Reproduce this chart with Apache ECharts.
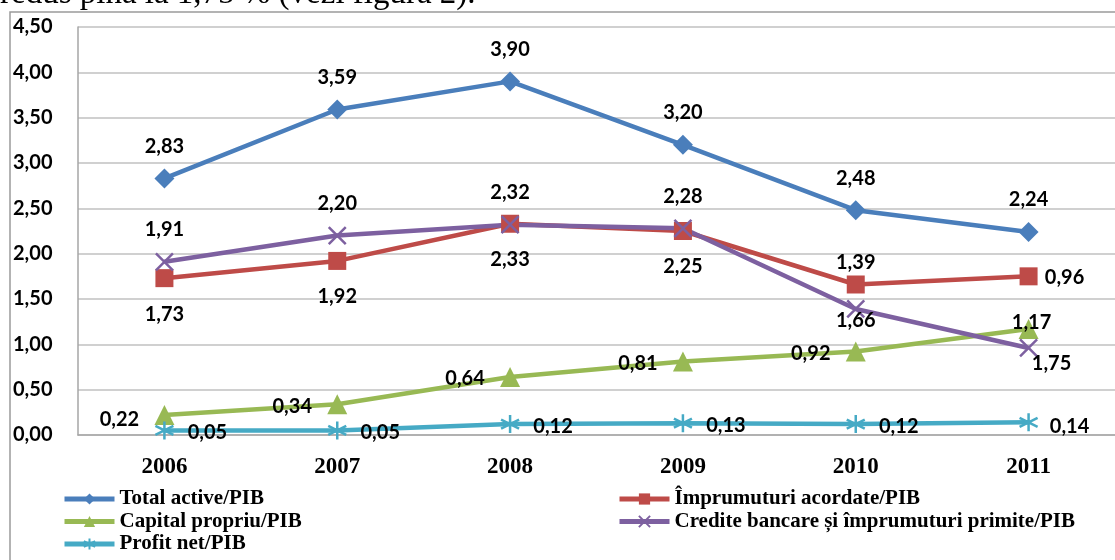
<!DOCTYPE html>
<html>
<head>
<meta charset="utf-8">
<script src="https://cdn.jsdelivr.net/npm/echarts@6/dist/echarts.min.js"></script>
<style>
  html, body { margin: 0; padding: 0; background: #fff; }
  #chart { width: 1115px; height: 560px; }
</style>
</head>
<body>
<div id="chart"></div>
<script>
// Indicatori raportați la PIB, 2006–2011
const years = ['2006', '2007', '2008', '2009', '2010', '2011'];
const yTicks = [0, 0.5, 1, 1.5, 2, 2.5, 3, 3.5, 4, 4.5];

const seriesNames = [
  'Total active/PIB',
  'Împrumuturi acordate/PIB',
  'Capital propriu/PIB',
  'Credite bancare și împrumuturi primite/PIB',
  'Profit net/PIB'
];

const totalActive   = [2.83, 3.59, 3.90, 3.20, 2.48, 2.24];
const imprumuturi   = [1.73, 1.92, 2.33, 2.25, 1.66, 1.75];
const capital       = [0.22, 0.34, 0.64, 0.81, 0.92, 1.17];
const credite       = [1.91, 2.20, 2.32, 2.28, 1.39, 0.96];
const profitNet     = [0.05, 0.05, 0.12, 0.13, 0.12, 0.14];

const seriesValues = [totalActive, imprumuturi, capital, credite, profitNet];

// visual styling per series
const colors = ['#4A7EBB', '#BE4B48', '#98B954', '#7D60A0', '#46AAC5'];
const symbols = [
  'diamond',
  'rect',
  'triangle',
  'path://M0,0L10,10M10,0L0,10',
  'path://M5,0L5,10M0.7,2.5L9.3,7.5M0.7,7.5L9.3,2.5'
];
const symbolSizes = [20, 18, 20, 17, 18];
const strokeSymbols = [false, false, false, true, true];

// default label offset from each point, then per-point adjustments
const baseOffsets = [[0, -32], [0, 36], [-45, 2], [0, -32], [43, 2]];
const pointOffsets = {
  2: { 0: [-45, 4], 5: [3, -6] },
  1: { 5: [23, 87] },
  3: { 4: [0, -46], 5: [36, -70] },
  4: { 5: [41, 4] }
};

const fmt = v => v.toFixed(2).replace('.', ',');

const series = seriesNames.map((name, i) => ({
  name,
  type: 'line',
  symbol: symbols[i],
  symbolSize: symbolSizes[i],
  lineStyle: { color: colors[i], width: 4.5 },
  itemStyle: strokeSymbols[i]
    ? { color: colors[i], borderColor: colors[i], borderWidth: 2.5 }
    : { color: colors[i], borderWidth: 0 },
  label: {
    show: true,
    position: 'inside',
    offset: baseOffsets[i],
    color: '#000',
    fontFamily: 'Lato',
    fontWeight: 'bold',
    fontSize: 20,
    formatter: p => fmt(p.value)
  },
  emphasis: { disabled: true },
  data: seriesValues[i].map((v, j) => {
    const off = pointOffsets[i] && pointOffsets[i][j];
    return off ? { value: v, label: { offset: off } } : v;
  })
}));

const legendText = {
  color: '#000',
  fontFamily: 'Liberation Serif',
  fontWeight: 'bold',
  fontSize: 21,
  lineHeight: 22
};

const legendBase = {
  orient: 'vertical',
  top: 488,
  bottom: -60,
  padding: 0,
  itemWidth: 50,
  itemHeight: 14,
  itemGap: 0.5,
  lineStyle: { width: 5 },
  textStyle: legendText
};

const chart = echarts.init(document.getElementById('chart'), null, { renderer: 'canvas' });
chart.setOption({
  animation: false,
  backgroundColor: '#fff',
  graphic: [
    {
      type: 'text',
      left: 0,
      top: -22,
      z: 10,
      style: {
        text: 'redus pînă la 1,75 % (vezi figura 2).',
        fontFamily: 'Liberation Serif',
        fontSize: 33,
        fill: '#000'
      }
    },
    {
      type: 'rect',
      shape: { x: 10, y: 12, width: 1200, height: 600 },
      style: { fill: 'none', stroke: '#9a9a9a', lineWidth: 1.5 },
      z: -1
    }
  ],
  grid: { left: 78, top: 27, bottom: 125, right: -14, containLabel: false },
  legend: [
    Object.assign({}, legendBase, {
      left: 62,
      data: [seriesNames[0], seriesNames[2], seriesNames[4]]
    }),
    Object.assign({}, legendBase, {
      left: 617,
      data: [seriesNames[1], seriesNames[3]]
    })
  ],
  xAxis: {
    type: 'category',
    data: years,
    boundaryGap: true,
    axisLine: { show: true, lineStyle: { color: '#a6a6a6', width: 1.5 } },
    axisTick: { show: false },
    axisLabel: {
      color: '#000',
      fontFamily: 'Liberation Serif',
      fontWeight: 'bold',
      fontSize: 23,
      margin: 21
    }
  },
  yAxis: {
    type: 'value',
    min: yTicks[0],
    max: yTicks[yTicks.length - 1],
    interval: yTicks[1] - yTicks[0],
    axisLine: { show: true, lineStyle: { color: '#a6a6a6', width: 1.5 } },
    axisTick: { show: false },
    splitLine: { show: true, lineStyle: { color: '#c0c0c0', width: 1.5 } },
    axisLabel: {
      color: '#000',
      fontFamily: 'Lato',
      fontWeight: 'bold',
      fontSize: 20,
      align: 'left',
      margin: 65,
      formatter: v => fmt(v)
    }
  },
  series
});
</script>
</body>
</html>
